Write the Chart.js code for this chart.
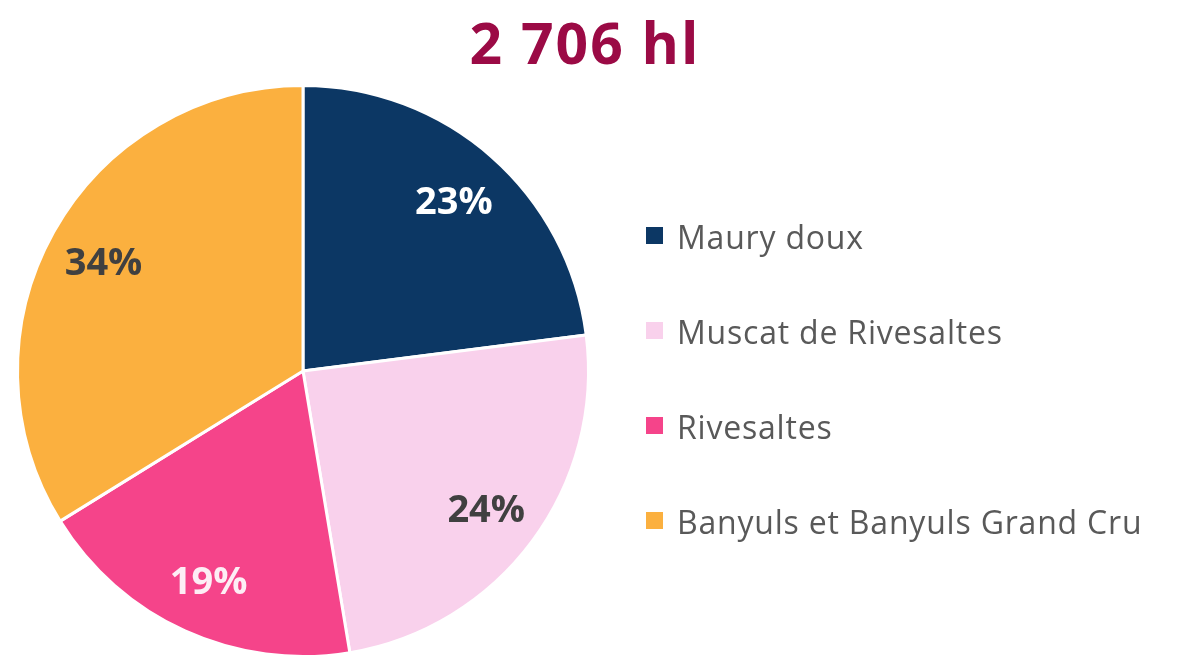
<!DOCTYPE html>
<html>
<head>
<meta charset="utf-8">
<script src="https://cdn.jsdelivr.net/npm/chart.js@4.4.1/dist/chart.umd.min.js"></script>
<style>
    body { margin: 0; background: #fff; }
    #wrap { position: relative; width: 1193px; height: 658px; font-family: "Open Sans", Lato, sans-serif; }
    #total { position: absolute; left: 385px; top: 3px; width: 400px; text-align: center; font-size: 57px; font-weight: bold; letter-spacing: 2px; color: #9b0a45; }
    #legend { position: absolute; left: 646px; top: 0; }
    .item { position: absolute; left: 0; white-space: nowrap; font-size: 32px; letter-spacing: 0.8px; color: #595959; line-height: 1; }
    .item span { display: inline-block; width: 17px; height: 17px; margin-right: 14px; vertical-align: 5px; }
</style>
</head>
<body>
<div id="wrap">
    <canvas id="pie" width="1193" height="658"></canvas>
    <div id="total"></div>
    <div id="legend"></div>
</div>
<script>
const totalLabel = '2 706 hl';
const categories = ['Maury doux', 'Muscat de Rivesaltes', 'Rivesaltes', 'Banyuls et Banyuls Grand Cru'];
const volumes = [622, 660, 509, 915];
const colors = ['#0c3764', '#f9d1ec', '#f5448a', '#fbb03f'];
const labelColors = ['#ffffff', '#404040', '#fdeef5', '#404040'];

document.getElementById('total').textContent = totalLabel;

const legend = document.getElementById('legend');
categories.forEach((name, i) => {
    const row = document.createElement('div');
    row.className = 'item';
    row.style.top = (221 + i * 95) + 'px';
    row.innerHTML = `<span style="background:${colors[i]}"></span>${name}`;
    legend.appendChild(row);
});

// percentage labels inside slices
const sliceLabels = {
    id: 'sliceLabels',
    afterDatasetsDraw(chart) {
        const ctx = chart.ctx;
        const data = chart.data.datasets[0].data;
        const sum = data.reduce((a, b) => a + b, 0);
        const meta = chart.getDatasetMeta(0);
        ctx.save();
        ctx.font = 'bold 38px "Open Sans", Lato, sans-serif';
        ctx.textAlign = 'center';
        ctx.textBaseline = 'middle';
        meta.data.forEach((arc, i) => {
            const p = arc.getProps(['x', 'y', 'startAngle', 'endAngle', 'outerRadius']);
            const mid = (p.startAngle + p.endAngle) / 2;
            const r = p.outerRadius * 0.8;
            ctx.fillStyle = labelColors[i];
            ctx.fillText(Math.round(data[i] / sum * 100) + '%', p.x + Math.cos(mid) * r, p.y + 4 + Math.sin(mid) * r);
        });
        ctx.restore();
    }
};

new Chart(document.getElementById('pie'), {
    type: 'pie',
    data: {
        labels: categories,
        datasets: [{
            data: volumes,
            backgroundColor: colors,
            borderColor: '#ffffff',
            borderWidth: 3,
            hoverOffset: 0
        }]
    },
    options: {
        responsive: false,
        animation: false,
        layout: { padding: { left: 15, top: 84, right: 602, bottom: 0 } },
        plugins: {
            legend: { display: false },
            tooltip: { enabled: false }
        }
    },
    plugins: [sliceLabels]
});
</script>
</body>
</html>
